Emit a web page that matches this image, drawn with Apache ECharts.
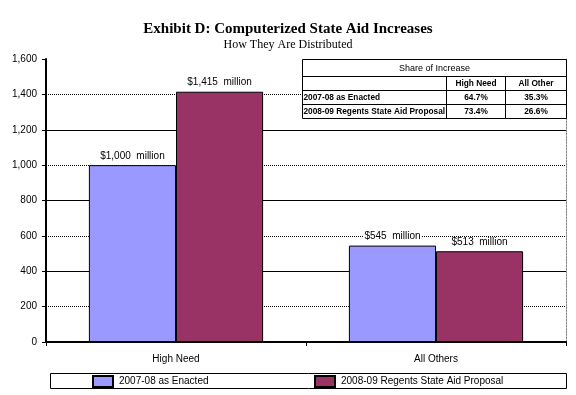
<!DOCTYPE html>
<html>
<head>
<meta charset="utf-8">
<script src="https://cdn.jsdelivr.net/npm/echarts@6/dist/echarts.min.js"></script>
<style>
html,body{margin:0;padding:0;background:#fff;}
#main{width:576px;height:395px;}
</style>
</head>
<body>
<div id="main"></div>
<script>
const categories = ['High Need', 'All Others'];
const seriesNames = ['2007-08 as Enacted', '2008-09 Regents State Aid Proposal'];
const enacted = [1000, 545];
const proposal = [1415, 513];
const yMin = 0, yMax = 1600, yStep = 200;
const tableTitle = 'Share of Increase';
const tableColumns = ['High Need', 'All Other'];
const tableRowLabels = ['2007-08 as Enacted', '2008-09 Regents State Aid Proposal'];
const tableHighNeed = ['64.7%', '73.4%'];
const tableAllOther = ['35.3%', '26.6%'];

const SANS = '"Liberation Sans", Arial, sans-serif';
const SERIF = '"Liberation Serif", "Times New Roman", serif';
const BLUE = '#9999FF', RED = '#993366';

const chart = echarts.init(document.getElementById('main'), null, {renderer: 'canvas'});

// table graphic
const tx = 302.5, ty = 59.5, tw = 264, rowH = [17, 14, 14, 14];
const colX = [302.5, 446.5, 505.5, 566.5];
const th = rowH.reduce((a, b) => a + b, 0);
const tableEls = [];
const TFONT = 'bold 8.3px ' + SANS;
const Z = 100;
tableEls.push({type: 'rect', z: Z, shape: {x: tx, y: ty, width: tw, height: th}, style: {fill: '#fff', stroke: '#000', lineWidth: 1}});
let yy = ty;
const rowY = [];
rowH.forEach((h, i) => { rowY.push(yy); yy += h; if (i < rowH.length - 1) tableEls.push({type: 'line', z: Z + 1, shape: {x1: tx, y1: yy, x2: tx + tw, y2: yy}, style: {stroke: '#000', lineWidth: 1}}); });
[colX[1], colX[2]].forEach(x => tableEls.push({type: 'line', z: Z + 1, shape: {x1: x, y1: rowY[1], x2: x, y2: ty + th}, style: {stroke: '#000', lineWidth: 1}}));
const txt = (text, x, y, align, font) => ({type: 'text', z: Z + 2, style: {text, x, y, align, verticalAlign: 'middle', font, fill: '#000'}});
tableEls.push(txt(tableTitle, tx + tw / 2, rowY[0] + rowH[0] / 2 + 0.5, 'center', '9px ' + SANS));
tableColumns.forEach((c, i) => tableEls.push(txt(c, (colX[i + 1] + colX[i + 2]) / 2, rowY[1] + rowH[1] / 2 + 0.5, 'center', TFONT)));
tableRowLabels.forEach((r, i) => {
  const cy = rowY[i + 2] + rowH[i + 2] / 2 + 0.5;
  tableEls.push(txt(r, tx + 1, cy, 'left', TFONT));
  tableEls.push(txt(tableHighNeed[i], (colX[1] + colX[2]) / 2, cy, 'center', TFONT));
  tableEls.push(txt(tableAllOther[i], (colX[2] + colX[3]) / 2, cy, 'center', TFONT));
});

const labelOpt = {
  show: true, position: 'top', distance: 4,
  fontFamily: SANS, fontSize: 10, color: '#000',
  backgroundColor: '#fff', padding: [0, 1],
  formatter: p => '$' + p.value.toLocaleString('en-US') + '  million'
};

const legendCommon = {
  top: 375, itemWidth: 20, itemHeight: 11, itemGap: 0, padding: 0, icon: 'rect',
  textStyle: {fontFamily: SANS, fontSize: 10, color: '#000', padding: [0, 0, 0, 1]}
};

chart.setOption({
  animation: false,
  backgroundColor: '#fff',
  title: {
    text: 'Exhibit D: Computerized State Aid Increases',
    subtext: 'How They Are Distributed',
    left: 'center', top: 17, itemGap: 2,
    textStyle: {fontFamily: SERIF, fontSize: 15, fontWeight: 'bold', color: '#000'},
    subtextStyle: {fontFamily: SERIF, fontSize: 12, color: '#000'}
  },
  grid: {left: 46, right: 10, top: 59, bottom: 53},
  legend: [
    Object.assign({data: [seriesNames[0]], left: 92}, legendCommon),
    Object.assign({data: [seriesNames[1]], left: 314}, legendCommon)
  ],
  xAxis: {
    type: 'category', data: categories,
    axisLine: {lineStyle: {color: '#000', width: 2}},
    axisTick: {show: true, length: 4, lineStyle: {color: '#000'}},
    axisLabel: {fontFamily: SANS, fontSize: 10, color: '#000', margin: 12}
  },
  yAxis: [
    {
      type: 'value', min: yMin, max: yMax, interval: yStep,
      axisLine: {show: true, lineStyle: {color: '#000', width: 2}},
      axisTick: {show: true, length: 4, lineStyle: {color: '#000'}},
      axisLabel: {fontFamily: SANS, fontSize: 10, color: '#000', margin: 9, formatter: v => v.toLocaleString('en-US')},
      splitLine: {show: true, showMinLine: false, showMaxLine: false, lineStyle: {color: '#000', width: 1, type: [1, 1]}}
    },
    {
      type: 'value', min: yMin, max: yMax, interval: yStep * 2, position: 'right',
      axisLine: {show: true, lineStyle: {color: '#888', width: 1, type: [2, 1]}},
      axisTick: {show: false}, axisLabel: {show: false},
      splitLine: {show: true, showMinLine: false, showMaxLine: false, lineStyle: {color: '#000', width: 1, type: 'solid'}}
    }
  ],
  series: [
    {name: seriesNames[0], type: 'bar', data: enacted, barGap: '0%', barCategoryGap: '33%',
     itemStyle: {color: BLUE, borderColor: '#000', borderWidth: 1}, label: labelOpt},
    {name: seriesNames[1], type: 'bar', data: proposal,
     itemStyle: {color: RED, borderColor: '#000', borderWidth: 1}, label: labelOpt}
  ],
  graphic: [
    {type: 'rect', silent: true, shape: {x: 50.5, y: 373.5, width: 516, height: 15}, style: {fill: null, stroke: '#000', lineWidth: 1}, z: -1},
    {type: 'group', children: tableEls, z: Z}
  ]
});
</script>
</body>
</html>
